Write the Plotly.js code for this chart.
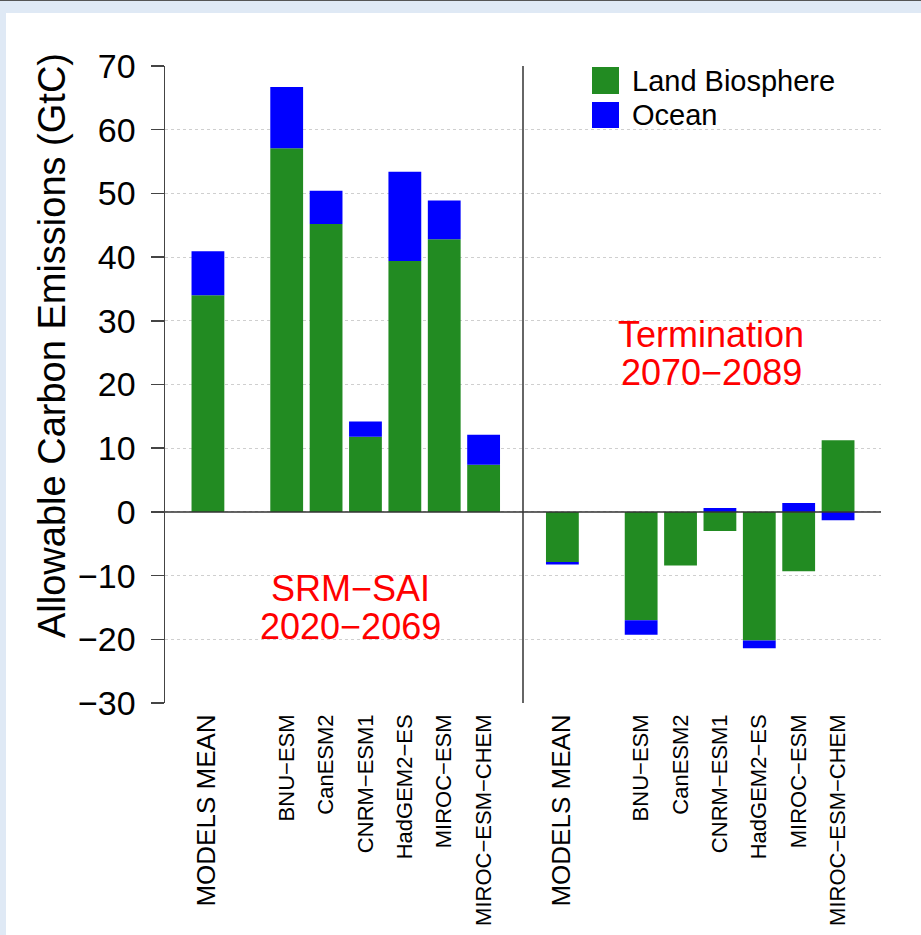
<!DOCTYPE html>
<html>
<head>
<meta charset="utf-8">
<script src="https://cdn.plot.ly/plotly-3.0.1.min.js"></script>
<style>
  html, body { margin: 0; padding: 0; background: #dfe9f5; }
  #frame { position: absolute; left: 0; top: 0; width: 921px; height: 935px; overflow: hidden; }
  #topline { position: absolute; left: 0; top: 0; width: 921px; height: 1px; background: #555; }
  #panel { position: absolute; left: 6px; top: 13px; width: 915px; height: 922px; background: #ffffff; }
  #chart { position: absolute; left: 0; top: 0; width: 921px; height: 935px; }
</style>
</head>
<body>
<div id="frame">
  <div id="topline"></div>
  <div id="panel"></div>
  <div id="chart"></div>
</div>
<script>
// ---- data ----
const models = ["MODELS MEAN", "BNU−ESM", "CanESM2", "CNRM−ESM1", "HadGEM2−ES", "MIROC−ESM", "MIROC−ESM−CHEM"];
const srmLand    = [34.0, 57.1, 45.2, 11.8, 39.4, 42.8, 7.4];
const srmOcean   = [6.9, 9.6, 5.2, 2.4, 14.0, 6.1, 4.7];
const termLand   = [-7.85, -17.0, -8.4, -3.0, -20.2, -9.3, 11.25];
const termOcean  = [-0.4, -2.3, 0.0, 0.6, -1.2, 1.4, -1.3];
const seriesNames = ["Land Biosphere", "Ocean"];
const periodLabels = [["SRM−SAI", "2020−2069"], ["Termination", "2070−2089"]];
const yTicks = [-30, -20, -10, 0, 10, 20, 30, 40, 50, 60, 70];

// ---- layout helpers ----
const FONT = "Liberation Sans, Arial, Helvetica, sans-serif";
const GREEN = "#228B22", BLUE = "#0000FF";
// slot positions: mean, gap, 6 models; divider; mean, gap, 6 models
function slot(group, i) { return group * 9 + (i === 0 ? 1 : i + 2); }
const xs = [];
models.forEach((m, i) => xs.push(slot(0, i)));
models.forEach((m, i) => xs.push(slot(1, i)));
const labelText = models.map(m => m === "MODELS MEAN" ? '<span style="font-size:26px">' + m + '</span>' : m);
const ticktext = labelText.concat(labelText);

const W = 0.833;
const traces = [
  { type: "bar", name: seriesNames[0], x: xs, y: srmLand.concat(termLand), width: W,
    marker: { color: GREEN, line: { width: 0 } }, showlegend: false },
  { type: "bar", name: seriesNames[1], x: xs, y: srmOcean.concat(termOcean), width: W,
    marker: { color: BLUE, line: { width: 0 } }, showlegend: false }
];

// plot area in pixels: x 165..881, y 66..703
const L = 165, R = 881, T = 66, B = 703;
const px = v => (v - L) / (R - L);
const py = v => (B - v) / (B - T);

const RED = { family: FONT, size: 36, color: "#FF0000" };
const annotations = [
  { text: periodLabels[0][0], x: px(350), y: py(588), xref: "paper", yref: "paper", showarrow: false,
    xanchor: "center", yanchor: "middle", font: RED },
  { text: periodLabels[0][1], x: px(350), y: py(626), xref: "paper", yref: "paper", showarrow: false,
    xanchor: "center", yanchor: "middle", font: RED },
  { text: periodLabels[1][0], x: px(711), y: py(334), xref: "paper", yref: "paper", showarrow: false,
    xanchor: "center", yanchor: "middle", font: RED },
  { text: periodLabels[1][1], x: px(711), y: py(372), xref: "paper", yref: "paper", showarrow: false,
    xanchor: "center", yanchor: "middle", font: RED },
  { text: seriesNames[0], x: px(630), y: py(81), xref: "paper", yref: "paper", showarrow: false,
    xanchor: "left", yanchor: "middle", font: { family: FONT, size: 29, color: "#000" } },
  { text: seriesNames[1], x: px(630), y: py(115), xref: "paper", yref: "paper", showarrow: false,
    xanchor: "left", yanchor: "middle", font: { family: FONT, size: 29, color: "#000" } },
  { text: "Allowable Carbon Emissions (GtC)", x: px(52), y: py(346), xref: "paper", yref: "paper",
    showarrow: false, textangle: -90, xanchor: "center", yanchor: "middle",
    font: { family: FONT, size: 38, color: "#000" } }
];

const shapes = [
  { type: "line", xref: "paper", yref: "y", x0: 0, x1: 1, y0: 0, y1: 0, layer: "above",
    line: { color: "#333", width: 1.5 } },
  { type: "line", xref: "x", yref: "y", x0: 9, x1: 9, y0: -30, y1: 70, layer: "above",
    line: { color: "#333", width: 1.5 } },
  { type: "rect", xref: "paper", yref: "paper", x0: px(592), x1: px(619), y0: py(94), y1: py(67),
    fillcolor: GREEN, line: { width: 0 }, layer: "above" },
  { type: "rect", xref: "paper", yref: "paper", x0: px(592), x1: px(619), y0: py(128), y1: py(102),
    fillcolor: BLUE, line: { width: 0 }, layer: "above" }
];

const layout = {
  width: 921, height: 935,
  margin: { l: L, r: 921 - R, t: T, b: 935 - B, pad: 0 },
  paper_bgcolor: "rgba(0,0,0,0)",
  plot_bgcolor: "rgba(0,0,0,0)",
  barmode: "relative",
  showlegend: false,
  font: { family: FONT, color: "#000" },
  xaxis: {
    range: [-0.09, 18.09], showgrid: false, zeroline: false, showline: false,
    tickmode: "array", tickvals: xs, ticktext: ticktext, tickangle: -90,
    ticks: "", ticklabelstandoff: 6,
    tickfont: { family: FONT, size: 22, color: "#000" }
  },
  yaxis: {
    range: [-30, 70], tickmode: "array", tickvals: yTicks,
    ticks: "outside", ticklen: 13, tickwidth: 1.5, tickcolor: "#444",
    showline: true, linecolor: "#444", linewidth: 1.5,
    showgrid: true, gridcolor: "#cfcfcf", griddash: "dot", gridwidth: 1,
    zeroline: false, ticklabelstandoff: 8,
    tickfont: { family: FONT, size: 34, color: "#000" }
  },
  annotations: annotations,
  shapes: shapes
};

Plotly.newPlot("chart", traces, layout, { displayModeBar: false, staticPlot: true });
</script>
</body>
</html>
